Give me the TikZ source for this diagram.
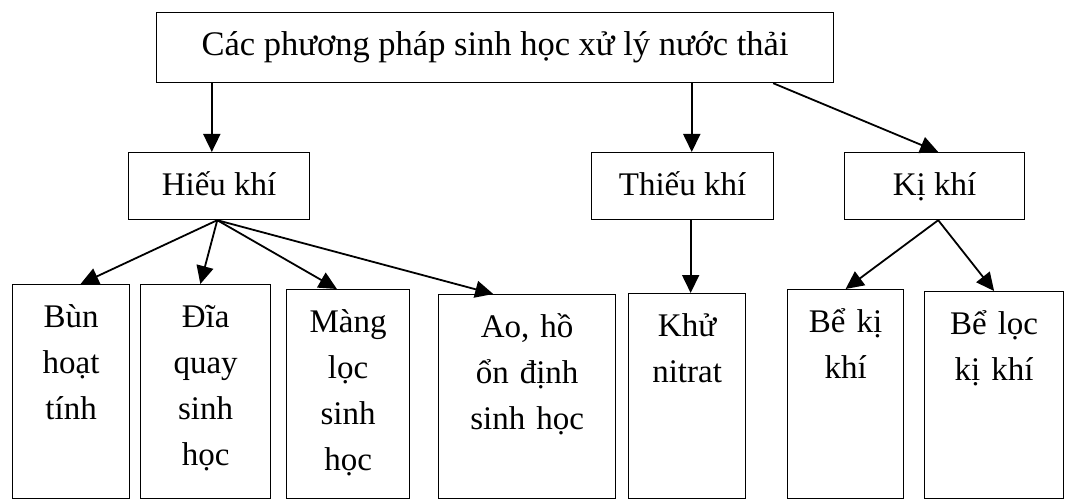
\documentclass[tikz,border=0pt]{standalone}
\usepackage{fontspec}
\setmainfont{Liberation Serif}
\usetikzlibrary{arrows.meta,calc}
\begin{document}
\begin{tikzpicture}[x=1pt,y=-1pt,
  box/.style={draw, line width=1.2pt, inner sep=0pt, font=\fontsize{33}{46}\selectfont, align=center, anchor=north west, text height=43pt},
  mid/.style={box, text depth=24pt},
  leaf/.style={box},
  arr/.style={line width=1.8pt, -{Triangle[length=18pt,width=17pt]}}]
\useasboundingbox (0,0) rectangle (1085,500);
\node[box, minimum width=677pt, text depth=27pt, font=\fontsize{34.5}{46}\selectfont] (top) at (156,12) {Các phương pháp sinh học xử lý nước thải};
\node[mid, minimum width=181pt] (hieu) at (128,152) {Hiếu khí};
\node[mid, minimum width=182pt] (thieu) at (591,152) {Thiếu khí};
\node[mid, minimum width=180pt] (ki) at (844,152) {Kị khí};
\node[leaf, text width=117pt, text depth=171pt] (bun) at (12,284) {Bùn\\hoạt\\tính};
\node[leaf, text width=130pt, text depth=171pt] (dia) at (140,284) {Đĩa\\quay\\sinh\\học};
\node[leaf, text width=123pt, text depth=166pt] (mang) at (286,289) {Màng\\lọc\\sinh\\học};
\node[leaf, text width=177pt, text depth=161pt] (ao) at (438,294) {Ao, hồ\\ổn định\\sinh học};
\node[leaf, text width=117pt, text depth=162pt] (khu) at (628,293) {Khử\\nitrat};
\node[leaf, text width=116pt, text depth=166pt] (bki) at (787,289) {Bể kị\\khí};
\node[leaf, text width=139pt, text depth=164pt] (bloc) at (924,291) {Bể lọc\\kị khí};
% anchor points
\coordinate (h1) at ($(hieu.north west)!0.46!(hieu.north east)$);
\coordinate (t1) at ($(thieu.north west)!0.55!(thieu.north east)$);
\coordinate (k1) at ($(ki.north west)!0.52!(ki.north east)$);
\coordinate (tk) at ($(top.south west)!0.91!(top.south east)$);
\coordinate (ks) at ($(ki.south west)!0.52!(ki.south east)$);
\coordinate (hs) at ($(hieu.south west)!0.49!(hieu.south east)$);
\coordinate (nt) at ($(khu.north west)!0.53!(khu.north east)$);
% connectors
\draw[arr] (h1 |- top.south) -- (h1);
\draw[arr] (t1 |- top.south) -- (t1);
\draw[arr] (tk) -- (k1);
\draw[arr] (hs) -- ($(bun.north west)!0.58!(bun.north east)$);
\draw[arr] (hs) -- ($(dia.north west)!0.46!(dia.north east)$);
\draw[arr] (hs) -- ($(mang.north west)!0.41!(mang.north east)$);
\draw[arr] (hs) -- ($(ao.north west)!0.31!(ao.north east)$);
\draw[arr] (nt |- thieu.south) -- (nt);
\draw[arr] (ks) -- (bki.north);
\draw[arr] (ks) -- (bloc.north);
\end{tikzpicture}
\end{document}
